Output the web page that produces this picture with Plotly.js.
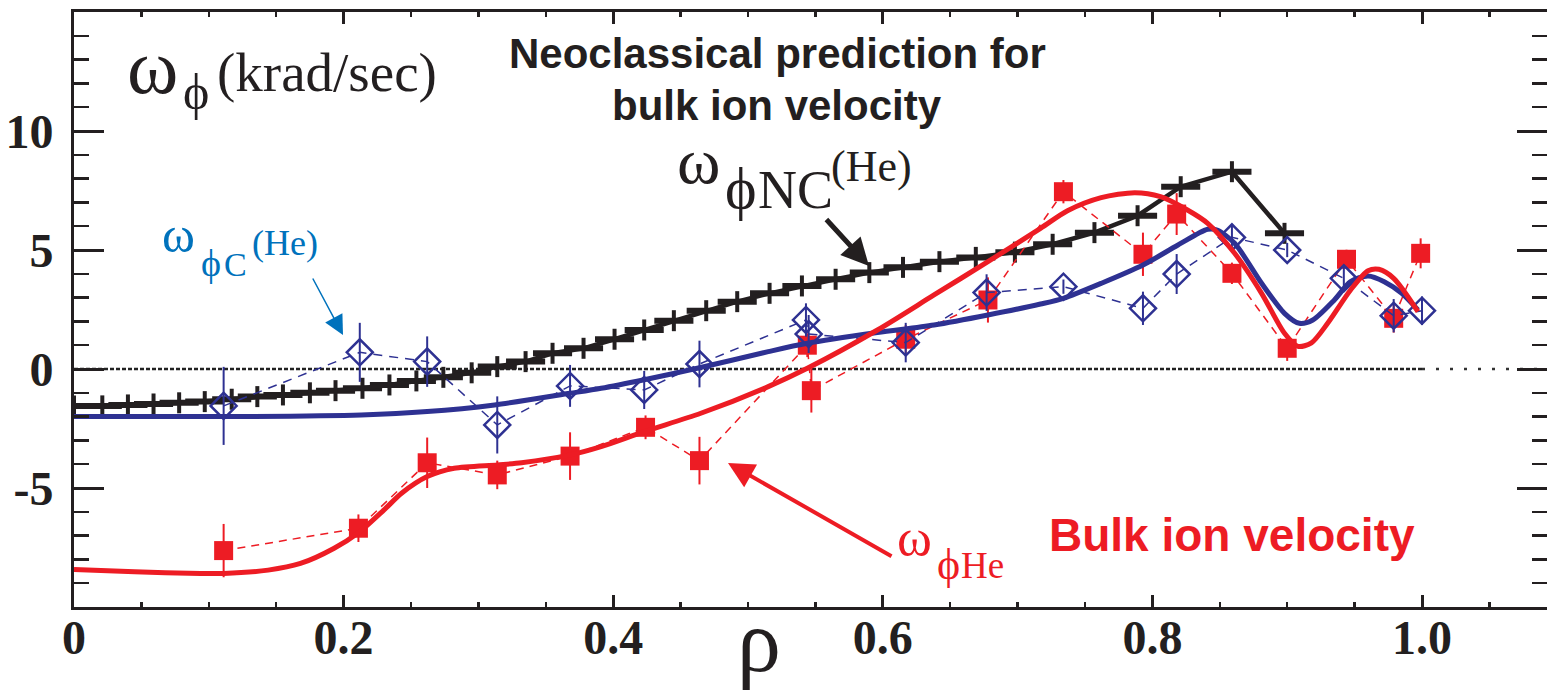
<!DOCTYPE html>
<html><head><meta charset="utf-8">
<script src="https://cdn.plot.ly/plotly-3.0.1.min.js"></script>
<style>html,body{margin:0;padding:0;background:#fff;} #chart{width:1547px;height:691px;}</style>
</head><body><div id="chart"></div>
<script>
// ---------------- data ----------------
// neoclassical prediction (black, + markers with bin bars)
const rhoNC = [0.000,0.021,0.040,0.059,0.078,0.097,0.117,0.136,0.155,0.175,
               0.194,0.214,0.234,0.254,0.274,0.295,0.314,0.335,0.355,0.378,
               0.401,0.423,0.445,0.469,0.492,0.516,0.540,0.565,0.590,0.615,
               0.642,0.669,0.698,0.726,0.757,0.789,0.821,0.859,0.898];
const omegaNC = [-1.55,-1.55,-1.51,-1.47,-1.42,-1.37,-1.27,-1.16,-1.09,-1.00,
                 -0.91,-0.81,-0.67,-0.50,-0.35,-0.16,0.10,0.31,0.66,0.87,
                 1.25,1.64,2.03,2.45,2.83,3.18,3.49,3.77,4.05,4.27,
                 4.51,4.69,4.91,5.24,5.73,6.44,7.66,8.29,5.70];
const ncBinHalfWidth = 0.0145;

// measured He (bulk ion) velocity, red squares
const rhoHe = [0.111,0.211,0.262,0.314,0.368,0.424,0.464,0.544,0.547,0.617,
               0.678,0.734,0.793,0.818,0.859,0.900,0.944,0.979,0.999];
const omegaHe = [-7.63,-6.69,-3.94,-4.45,-3.66,-2.45,-3.85,1.00,-0.91,1.25,
                 2.90,7.45,4.82,6.51,4.02,0.87,4.61,2.13,4.86];
const errHe = [1.12,0.58,1.06,0.60,1.00,0.50,1.00,0.50,0.92,0.60,
               0.95,0.49,0.91,0.88,0.45,0.53,0.40,0.60,0.63];

// carbon-derived He velocity, blue diamonds
const rhoC = [0.111,0.212,0.262,0.314,0.368,0.423,0.464,0.543,0.545,0.617,
              0.677,0.734,0.793,0.818,0.859,0.900,0.942,0.979,1.000];
const omegaC = [-1.55,0.70,0.31,-2.35,-0.71,-0.88,0.21,2.06,1.47,1.11,
                3.21,3.46,2.55,3.99,5.53,5.00,3.81,2.24,2.45];
const errC = [1.64,1.24,1.06,1.20,0.88,0.80,0.98,0.70,0.80,0.83,
              0.77,0.30,0.70,0.84,0.50,0.30,0.50,0.70,0.60];

// smooth fitted profiles
const rhoHeFit = [0.000,0.045,0.094,0.111,0.144,0.168,0.193,0.211,0.230,0.243,
                  0.262,0.282,0.314,0.332,0.368,0.391,0.423,0.465,0.515,0.544,
                  0.596,0.638,0.678,0.717,0.737,0.762,0.787,0.806,0.826,0.841,
                  0.861,0.881,0.898,0.908,0.918,0.930,0.947,0.960,0.968,0.979,0.997];
const omegaHeFit = [-8.42,-8.52,-8.59,-8.59,-8.45,-8.17,-7.53,-6.88,-5.92,-5.22,
                    -4.52,-4.17,-4.03,-3.94,-3.61,-3.26,-2.63,-1.86,-0.74,0.03,
                    1.64,3.11,4.51,5.91,6.65,7.20,7.41,7.24,6.68,6.12,
                    4.86,3.18,1.50,0.95,1.10,1.92,3.32,4.13,4.19,3.81,2.41];
const rhoCFit = [0.000,0.111,0.213,0.262,0.312,0.368,0.391,0.423,0.464,0.515,
                 0.544,0.596,0.638,0.678,0.717,0.734,0.762,0.793,0.819,0.841,
                 0.848,0.861,0.881,0.898,0.909,0.919,0.935,0.947,0.960,0.972,
                 0.985,0.997];
const omegaCFit = [-2.00,-2.00,-1.93,-1.79,-1.51,-1.02,-0.81,-0.45,0.05,0.73,
                   1.08,1.53,1.85,2.27,2.73,2.97,3.60,4.37,5.21,5.87,
                   5.84,5.28,3.60,2.34,1.92,2.06,2.90,3.67,3.91,3.67,
                   3.18,2.48];

const xTickVals = [0,0.2,0.4,0.6,0.8,1.0];
const xTickText = ['0','0.2','0.4','0.6','0.8','1.0'];
const yTickVals = [-5,0,5,10];
const yTickText = ['-5','0','5','10'];

// ---------------- layout constants ----------------
const W=1547, H=691, ML=74, MR=0, MT=12, MB=84;
const PXU = 1348;                       // pixels per unit of rho
const XR = [0, (W-ML-MR)/PXU];
const YR = [-10, 15];
const BLACK='#231F20', RED='#ED1C24', BLUE='#2E3192', LBLUE='#0072BC';
const SERIF='Liberation Serif, Times New Roman, serif';
const SANS='Liberation Sans, Arial, sans-serif';

function px2x(px){ return XR[0] + (px-ML)/(W-ML-MR)*(XR[1]-XR[0]); }
function py2y(py){ return YR[1] - (py-MT)/(H-MT-MB)*(YR[1]-YR[0]); }
function pxp(px){ return (px-ML)/(W-ML-MR); }
function pyp(py){ return (H-MB-py)/(H-MT-MB); }

function txt(text, left, cy, size, color, family, weight, anchor){
  return {xref:'paper', yref:'paper', x:pxp(left), y:pyp(cy), text:text,
          xanchor: anchor||'left', yanchor:'middle', showarrow:false,
          font:{family:family||SERIF, size:size, color:color, weight:weight||'normal'},
          borderpad:0};
}
function arrow(tipPx, tipPy, ax, ay, color, width, size){
  return {xref:'x', yref:'y', x:px2x(tipPx), y:py2y(tipPy), ax:ax, ay:ay,
          text:'', showarrow:true, arrowhead:2, arrowsize:size, arrowwidth:width,
          arrowcolor:color, standoff:0, startstandoff:0};
}

const traces = [
  { x:rhoNC, y:omegaNC, type:'scatter', mode:'lines+markers',
    line:{color:BLACK, width:4.5},
    marker:{symbol:'line-ns', size:15, color:BLACK, line:{color:BLACK, width:4}},
    error_x:{type:'constant', value:ncBinHalfWidth, thickness:6, width:0, color:BLACK},
    hoverinfo:'skip', showlegend:false },
  { x:rhoHe, y:omegaHe, type:'scatter', mode:'lines+markers',
    line:{color:RED, width:1.5, dash:'8px,6px'},
    marker:{symbol:'square', size:19, color:RED},
    error_y:{type:'data', array:errHe, thickness:2, width:0, color:RED},
    hoverinfo:'skip', showlegend:false },
  { x:rhoC, y:omegaC, type:'scatter', mode:'lines+markers',
    line:{color:BLUE, width:1.5, dash:'9px,7px'},
    marker:{symbol:'diamond-open', size:20, color:BLUE, line:{color:BLUE, width:2.5}},
    error_y:{type:'data', array:errC, thickness:2, width:0, color:BLUE},
    hoverinfo:'skip', showlegend:false },
  { x:rhoCFit, y:omegaCFit, type:'scatter', mode:'lines',
    line:{color:BLUE, width:5, shape:'spline', smoothing:0.8},
    hoverinfo:'skip', showlegend:false },
  { x:rhoHeFit, y:omegaHeFit, type:'scatter', mode:'lines',
    line:{color:RED, width:5, shape:'spline', smoothing:0.8},
    hoverinfo:'skip', showlegend:false }
];

const annotations = [
  // omega_phi (krad/sec)
  txt('ω', 126, 66, 78, BLACK),
  txt('ϕ', 182, 92, 50, BLACK),
  txt('(krad/sec)', 216, 73, 55, BLACK),
  // neoclassical title
  txt('Neoclassical prediction for', 777, 54, 42, BLACK, SANS, 'bold', 'center'),
  txt('bulk ion velocity', 777, 105, 42, BLACK, SANS, 'bold', 'center'),
  // omega_phiNC(He)
  txt('ω', 676, 160, 66, BLACK),
  txt('ϕ', 724, 188, 60, BLACK),
  txt('NC', 757, 190, 54, BLACK),
  txt('(He)', 830, 167, 44, BLACK),
  // omega_phiC(He)
  txt('ω', 161, 235, 50, LBLUE),
  txt('ϕ', 200, 263, 38, LBLUE),
  txt('C', 223, 264, 34, LBLUE),
  txt('(He)', 251, 243, 36, LBLUE),
  // omega_phiHe
  txt('ω', 896, 537, 53, RED),
  txt('ϕ', 936, 564, 44, RED),
  txt('He', 960, 565, 37, RED),
  // bulk ion velocity
  txt('Bulk ion velocity', 1048, 535, 46, RED, SANS, 'bold'),
  // x axis label rho
  txt('ρ', 736, 641, 88, BLACK),
  // arrows
  arrow(343, 335, -31, -58, LBLUE, 1.5, 2.6),
  arrow(869, 266, -44, -48, BLACK, 5, 1.1),
  arrow(728, 463, 165, 94, RED, 4, 1.3)
];

const shapes = [
  {type:'line', xref:'x', yref:'y', x0:0, x1:1.0, y0:0, y1:0, layer:'below',
   line:{color:'#222', width:2.5, dash:'4px,2px'}},
  {type:'line', xref:'x', yref:'y', x0:1.0, x1:XR[1], y0:0, y1:0, layer:'below',
   line:{color:'#333', width:2.5, dash:'3px,11px'}}
];

const layout = {
  width:W, height:H, margin:{l:ML, r:MR, t:MT, b:MB, pad:0},
  paper_bgcolor:'#fff', plot_bgcolor:'#fff', showlegend:false,
  xaxis:{range:XR, showline:true, linewidth:3, linecolor:BLACK, mirror:'ticks',
         ticks:'inside', ticklen:12, tickwidth:3, tickcolor:BLACK,
         tickmode:'array', tickvals:xTickVals, ticktext:xTickText,
         tickfont:{family:SERIF, size:48, color:BLACK, weight:'bold'},
         ticklabelstandoff:-14,
         minor:{dtick:0.05, tick0:0, ticks:'inside', ticklen:5, tickwidth:2.5, tickcolor:BLACK, showgrid:false},
         showgrid:false, zeroline:false, fixedrange:true},
  yaxis:{range:YR, showline:true, linewidth:3, linecolor:BLACK, mirror:'ticks',
         ticks:'inside', ticklen:30, tickwidth:3, tickcolor:BLACK,
         tickmode:'array', tickvals:yTickVals, ticktext:yTickText,
         tickfont:{family:SERIF, size:48, color:BLACK, weight:'bold'},
         ticklabelstandoff:8,
         minor:{dtick:1, tick0:0, ticks:'inside', ticklen:15, tickwidth:2.5, tickcolor:BLACK, showgrid:false},
         showgrid:false, zeroline:false, fixedrange:true},
  annotations:annotations, shapes:shapes
};

Plotly.newPlot('chart', traces, layout, {staticPlot:true, displayModeBar:false});
</script>
</body></html>
